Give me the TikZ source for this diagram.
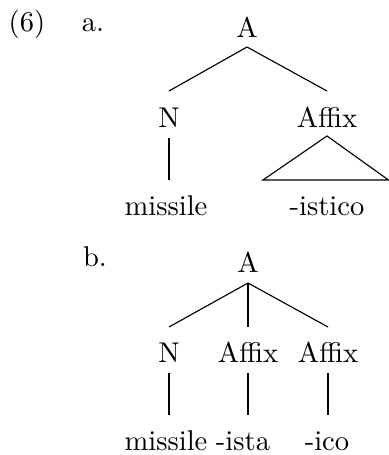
\documentclass[tikz,border=0pt]{standalone}
\usetikzlibrary{calc}
\begin{document}
\begin{tikzpicture}[x=0.35pt,y=-0.35pt,
  lbl/.style={anchor=base,inner sep=0pt,outer sep=0pt},
  edge/.style={draw=black,line width=0.4pt}]
\useasboundingbox (0,0) rectangle (389,455);
% labels
\node[lbl] (ex) at (27,31) {(6)};
\node[lbl] (la) at (93,31) {a.};
\node[lbl] (lb) at (95,266) {b.};
% tree a
\node[lbl] (Aa) at (247,37) {A};
\node[lbl] (Na) at (169,127) {N};
\node[lbl] (Xa) at (327,127) {Affix};
\node[lbl] (ma) at (166,215) {missile};
\node[lbl] (ia) at (327,215) {-istico};
\draw[edge] ($(Aa.base)+(0,10)$) -- ($(Na.base)+(0,-36)$);
\draw[edge] ($(Aa.base)+(0,10)$) -- ($(Xa.base)+(0,-36)$);
\draw[edge] ($(Na.base)+(0,11)$) -- ($(Na.base |- ma.base)+(0,-35)$);
\draw[edge] ($(Xa.base)+(0,9)$) -- ($(ia.base)+(-64,-35)$) -- ($(ia.base)+(61.5,-35)$) -- cycle;
% tree b
\node[lbl] (Ab) at (248,272) {A};
\node[lbl] (Nb) at (169,362) {N};
\node[lbl] (Xb) at (248,362) {Affix};
\node[lbl] (Yb) at (328,362) {Affix};
\node[lbl] (mb) at (166,450) {missile};
\node[lbl] (sb) at (243,450) {-ista};
\node[lbl] (cb) at (327,450) {-ico};
\draw[edge] ($(Ab.base)+(0,11)$) -- ($(Nb.base)+(0,-35)$);
\draw[edge] ($(Ab.base)+(0,11)$) -- ($(Xb.base)+(0,-35)$);
\draw[edge] ($(Ab.base)+(0,11)$) -- ($(Yb.base)+(0,-35)$);
\draw[edge] ($(Nb.base)+(0,11)$) -- ($(Nb.base |- mb.base)+(0,-35)$);
\draw[edge] ($(Xb.base)+(0,11)$) -- ($(Xb.base |- sb.base)+(0,-35)$);
\draw[edge] ($(Yb.base)+(0,11)$) -- ($(Yb.base |- cb.base)+(0,-35)$);
\end{tikzpicture}
\end{document}
